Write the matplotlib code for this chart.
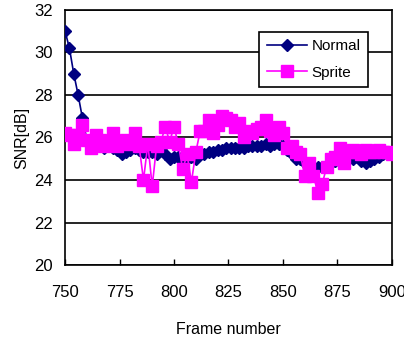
import matplotlib
matplotlib.use("Agg")
import matplotlib.pyplot as plt
import numpy as np

plt.rcParams['font.family'] = ['Liberation Sans', 'DejaVu Sans']

frames = list(range(750, 901, 2))

normal = [31.0, 30.2, 29.0, 28.0, 26.9, 25.9, 25.7, 25.7, 25.6, 25.5,
          25.6, 25.5, 25.4, 25.2, 25.3, 25.4, 25.5, 25.4, 25.3, 25.3,
          25.3, 25.2, 25.4, 25.2, 25.0, 25.1, 25.1, 25.0, 25.0, 25.1,
          25.0, 25.2, 25.2, 25.3, 25.3, 25.4, 25.4, 25.5, 25.5, 25.5,
          25.5, 25.5, 25.6, 25.6, 25.6, 25.6, 25.7, 25.6, 25.7, 25.7,
          25.6, 25.4, 25.2, 25.0, 25.0, 24.8, 24.7, 24.6, 24.6, 24.6,
          24.7, 24.8, 24.9, 25.0, 25.0, 25.0, 25.0, 25.1, 24.9, 24.8,
          24.9, 25.0, 25.1, 25.2, 25.2, 25.2]

sprite = [26.2, 26.1, 25.7, 26.1, 26.6, 25.9, 25.5, 26.1, 25.9, 25.6,
          25.7, 26.2, 25.6, 25.8, 25.9, 25.7, 26.2, 25.6, 24.0, 25.7,
          23.7, 25.6, 25.8, 26.5, 25.8, 26.5, 25.7, 24.5, 25.2, 23.9,
          25.3, 26.3, 26.3, 26.8, 26.2, 26.6, 27.0, 26.9, 26.8, 26.5,
          26.7, 26.0, 26.3, 26.2, 26.4, 26.5, 26.8, 26.3, 26.1, 26.5,
          26.2, 25.5, 25.6, 25.3, 25.2, 24.2, 24.8, 24.2, 23.4, 23.8,
          24.6, 25.0, 25.1, 25.5, 24.8, 25.3, 25.4, 25.3, 25.2, 25.4,
          25.3, 25.3, 25.4, 25.3, 25.3, 25.2]

xticks = [750, 775, 800, 825, 850, 875, 900]
yticks = [20, 22, 24, 26, 28, 30, 32]

fig = plt.figure(figsize=(4.04, 3.39), dpi=100)
ax = fig.add_axes([0.161, 0.218, 0.809, 0.753])

ax.plot(frames, normal, color='#000080', marker='D', markersize=6, linewidth=1.2,
        label='Normal', zorder=3)
ax.plot(frames, sprite, color='#FF00FF', marker='s', markersize=8, linewidth=1.2,
        label='Sprite', zorder=4)

ax.set_xlim(750, 900)
ax.set_ylim(20, 32)
ax.set_xticks(xticks)
ax.set_yticks(yticks)
ax.set_xticklabels([str(t) for t in xticks], fontsize=12)
ax.set_yticklabels([str(t) for t in yticks], fontsize=12)
ax.tick_params(axis='x', direction='in', length=4, width=1, pad=14)
ax.tick_params(axis='y', length=0, pad=9)
ax.yaxis.grid(True, color='black', linewidth=1.2)
ax.set_axisbelow(True)
for s in ax.spines.values():
    s.set_linewidth(1.2)
    s.set_color('black')

ax.set_xlabel('Frame number', fontsize=11.5, labelpad=16)
ax.set_ylabel('SNR[dB]', fontsize=11.5, labelpad=3)

leg = ax.legend(loc='upper right', bbox_to_anchor=(0.927, 0.914), borderaxespad=0,
                fontsize=11, frameon=True, fancybox=False, edgecolor='black',
                framealpha=1, handlelength=2.6, borderpad=0.5, labelspacing=0.8,
                handletextpad=0.3)
leg.get_frame().set_linewidth(1.2)

fig.savefig('out.png', dpi=100)
